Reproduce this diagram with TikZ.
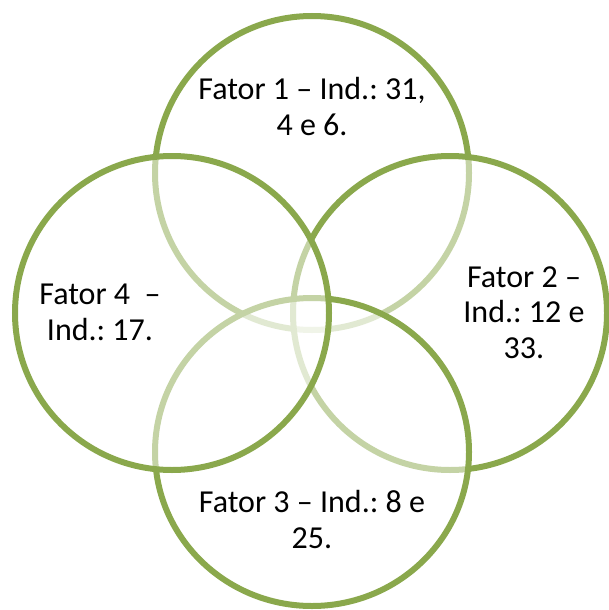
\documentclass[tikz,border=0pt]{standalone}
\usepackage{fontspec}
\setmainfont{Carlito}
\frenchspacing
\definecolor{olive}{RGB}{138,168,76}

\begin{document}
\begin{tikzpicture}[x=1pt, y=-1pt,
	ring/.style={draw=olive, line width=6pt, fill=white, fill opacity=0.5},
	lbl/.style={align=center, anchor=base, inner sep=0pt, font=\fontsize{32}{35.5}\selectfont}]
	\useasboundingbox (0,0) rectangle (609,610);
	% circles, drawn top, right, bottom, left
	\draw[ring] (312,173) circle (157);
	\draw[ring] (450,313) circle (157);
	\draw[ring] (312,452) ellipse [x radius=157, y radius=154];
	\draw[ring] (172,313) circle (157);
	% labels (anchor is the last line's baseline)
	\node[lbl] (fator1) at (312,135) {Fator 1 – Ind.: 31,\\ 4 e 6.};
	\node[lbl] (fator2) at (524,358) {Fator 2 –\\ Ind.: 12 e\\ 33.};
	\node[lbl] (fator3) at (312,548) {Fator 3 – Ind.: 8 e\\ 25.};
	\node[lbl] (fator4) at (100,340) {Fator 4~ –\\ Ind.: 17.};
\end{tikzpicture}
\end{document}
